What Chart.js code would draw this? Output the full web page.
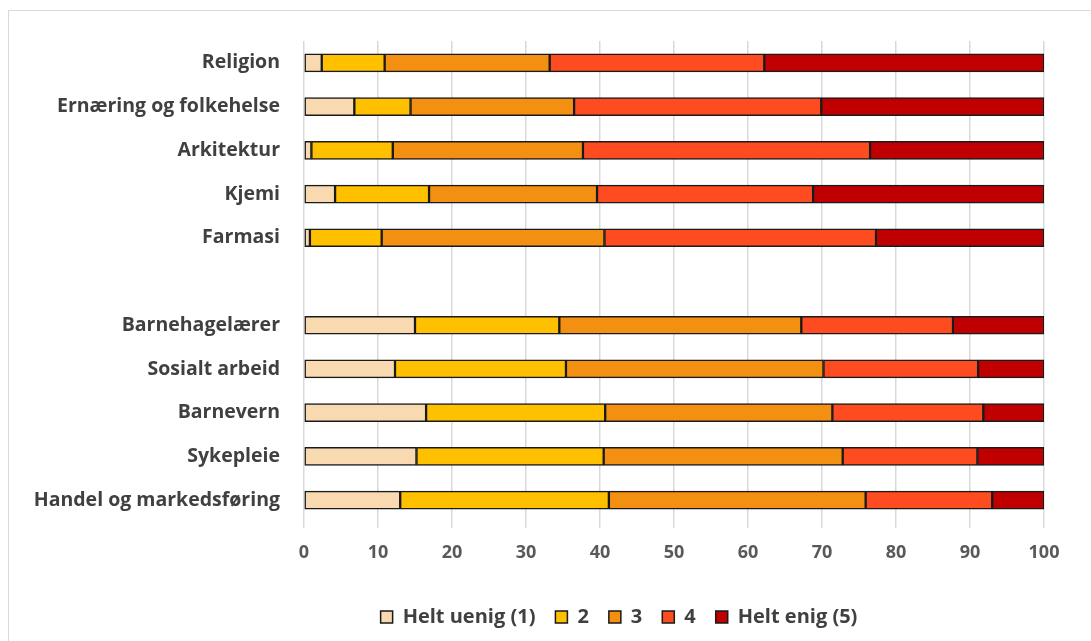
<!DOCTYPE html>
<html>
<head>
<meta charset="utf-8">
<script src="https://cdn.jsdelivr.net/npm/chart.js@4.4.0/dist/chart.umd.min.js"></script>
<style>
  body { margin: 0; background: #fff; }
  #frame { position: absolute; left: 8px; top: 10px; width: 1100px; height: 650px; border: 1px solid #D9D9D9; }
  #wrap { position: absolute; left: 0; top: 0; width: 1091px; height: 641px; }
</style>
</head>
<body>
<div id="frame"></div>
<div id="wrap"><canvas id="chartCanvas"></canvas></div>
<script>
// kategorier (tom rad skiller de to gruppene)
const categories = [
    'Religion', 'Ernæring og folkehelse', 'Arkitektur', 'Kjemi', 'Farmasi', '',
    'Barnehagelærer', 'Sosialt arbeid', 'Barnevern', 'Sykepleie', 'Handel og markedsføring'
];
const seriesNames = ['Helt uenig (1)', '2', '3', '4', 'Helt enig (5)'];
const xTicks = [0, 10, 20, 30, 40, 50, 60, 70, 80, 90, 100];

const heltUenig = [2.4, 6.8, 1.0, 4.2, 0.8, null, 15.0, 12.3, 16.5, 15.2, 13.0];
const svar2     = [8.5, 7.6, 11.0, 12.7, 9.7, null, 19.5, 23.1, 24.2, 25.3, 28.2];
const svar3     = [22.3, 22.1, 25.7, 22.7, 30.1, null, 32.7, 34.8, 30.7, 32.3, 34.7];
const svar4     = [29.0, 33.4, 38.8, 29.2, 36.7, null, 20.5, 20.9, 20.4, 18.2, 17.1];
const heltEnig  = [37.8, 30.1, 23.5, 31.2, 22.7, null, 12.3, 8.9, 8.2, 9.0, 7.0];

const colors = ['#F9DAB0', '#FFC000', '#F39011', '#FF4B20', '#C00000'];
const seriesData = [heltUenig, svar2, svar3, svar4, heltEnig];

const fontFam = "'Open Sans', Lato, sans-serif";

// flytter legenden så den sentreres under selve plottet
const legendUnderPlot = {
    id: 'legendUnderPlot',
    afterLayout(chart) {
        const lg = chart.legend;
        if (!lg) return;
        const shift = chart.chartArea.left - 150;
        lg.left += shift;
        lg.right = chart.chartArea.right + 40;
        lg.width = lg.right - lg.left;
    }
};

let ctx = document.querySelector('#chartCanvas');

let graph = new Chart(ctx, {
    type: 'bar',
    data: {
        labels: categories,
        datasets: seriesData.map((d, i) => ({
            label: seriesNames[i],
            data: d,
            backgroundColor: colors[i],
            borderColor: '#1a1a1a',
            borderWidth: 1.5,
            borderSkipped: false,
            barThickness: 18
        }))
    },
    plugins: [legendUnderPlot],
    options: {
        indexAxis: 'y',
        responsive: true,
        maintainAspectRatio: false,
        animation: false,
        layout: { padding: { top: 41, right: 47, bottom: 4, left: 0 } },
        scales: {
            x: {
                stacked: true,
                min: 0,
                max: 100,
                afterBuildTicks: (scale) => { scale.ticks = xTicks.map(v => ({ value: v })); },
                afterFit: (scale) => { scale.height = 65; },
                grid: { color: '#D9D9D9', lineWidth: 1.5, tickLength: 6, drawTicks: true },
                border: { display: false },
                ticks: {
                    color: '#595959',
                    padding: 14,
                    font: { family: fontFam, size: 18, weight: 'bold' }
                }
            },
            y: {
                stacked: true,
                afterFit: (scale) => { scale.width = 304; },
                grid: { display: false },
                border: { display: false },
                ticks: {
                    color: '#404040',
                    padding: 16,
                    font: { family: fontFam, size: 19.5, weight: 'bold' }
                }
            }
        },
        plugins: {
            tooltip: { enabled: false },
            legend: {
                display: true,
                position: 'bottom',
                labels: {
                    color: '#404040',
                    boxWidth: 12,
                    boxHeight: 12,
                    padding: 20,
                    font: { family: fontFam, size: 20, weight: 'bold' }
                }
            }
        }
    }
});
</script>
</body>
</html>
